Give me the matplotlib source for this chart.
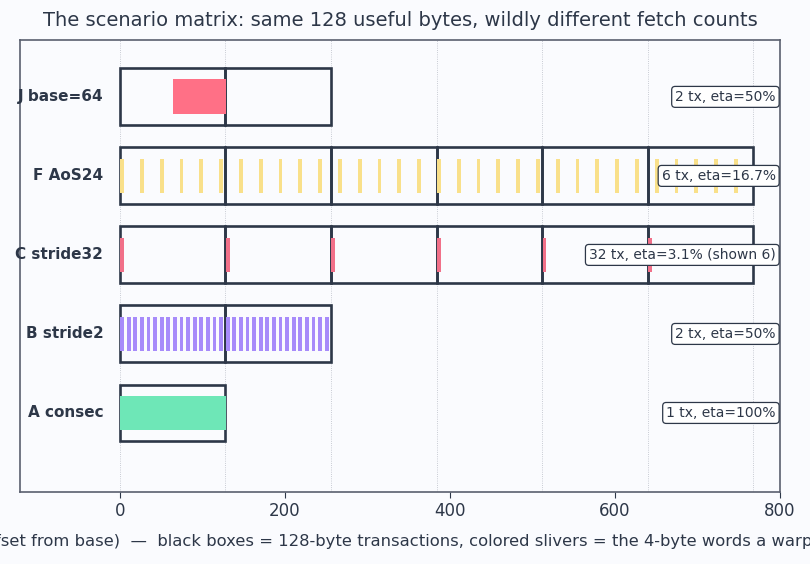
import matplotlib.pyplot as plt
from matplotlib.patches import Rectangle

# rows, bottom to top
row_labels = ["A consec", "B stride2", "C stride32", "F AoS24", "J base=64"]
# byte offsets of each 4-byte word the warp touches (as drawn)
word_offsets = [
    list(range(0, 128, 4)),          # A: 32 contiguous words
    list(range(0, 256, 8)),          # B: stride 2 words
    list(range(0, 768, 128)),        # C: stride 32 words, 6 shown
    list(range(0, 768, 24)),         # F: 24-byte structs
    list(range(64, 128, 4)),         # J: misaligned start
]
# 128-byte transactions per row (segment start offsets)
tx_starts = [
    [0],
    [0, 128],
    [0, 128, 256, 384, 512, 640],
    [0, 128, 256, 384, 512, 640],
    [0, 128],
]
notes = ["1 tx, eta=100%", "2 tx, eta=50%", "32 tx, eta=3.1% (shown 6)",
         "6 tx, eta=16.7%", "2 tx, eta=50%"]
colors = ["#6ee7b7", "#a78bfa", "#f17089", "#f9e08a", "#ff7086"]

WORD = 4
SEG = 128
ink = "#2d3748"
bg = "#fafbfe"

fig = plt.figure(figsize=(8.1, 5.64), dpi=100, facecolor=bg)
ax = fig.add_axes([0.0247, 0.1277, 0.938, 0.8014], facecolor=bg)

for x in range(0, 769, SEG):
    ax.axvline(x, color="#b8bcc6", lw=0.6, ls=":", zorder=0)

for i, (offs, segs) in enumerate(zip(word_offsets, tx_starts)):
    for s in segs:
        ax.add_patch(Rectangle((s, i - 0.36), SEG, 0.72, facecolor="none",
                               edgecolor=ink, lw=1.9, zorder=2))
    for o in offs:
        ax.add_patch(Rectangle((o + 0.5, i - 0.22), WORD + 0.5, 0.44, facecolor=colors[i],
                               edgecolor="none", zorder=3))
    ax.text(-20, i, row_labels[i], ha="right", va="center", fontsize=11,
            fontweight="bold", color=ink)
    ax.text(795, i, notes[i], ha="right", va="center", fontsize=10, color=ink,
            zorder=5, bbox=dict(boxstyle="round,pad=0.25", fc="white", ec=ink, lw=0.9))

ax.set_xlim(-121, 800)
ax.set_ylim(-1, 4.72)
ax.set_yticks([])
ax.tick_params(axis="x", labelsize=12, colors=ink, length=4)
ax.set_xticks([0, 200, 400, 600, 800])
for sp in ax.spines.values():
    sp.set_color("#5a5f6e")
    sp.set_linewidth(1.2)

ax.set_title("The scenario matrix: same 128 useful bytes, wildly different fetch counts",
             fontsize=14, color=ink, pad=10)
ax.set_xlabel("address (offset from base)  —  black boxes = 128-byte transactions, "
              "colored slivers = the 4-byte words a warp touches", fontsize=11.75,
              color=ink, labelpad=9)
ax.xaxis.set_label_coords(0.49, -0.092)

fig.savefig("out.png", dpi=100, facecolor=bg)
